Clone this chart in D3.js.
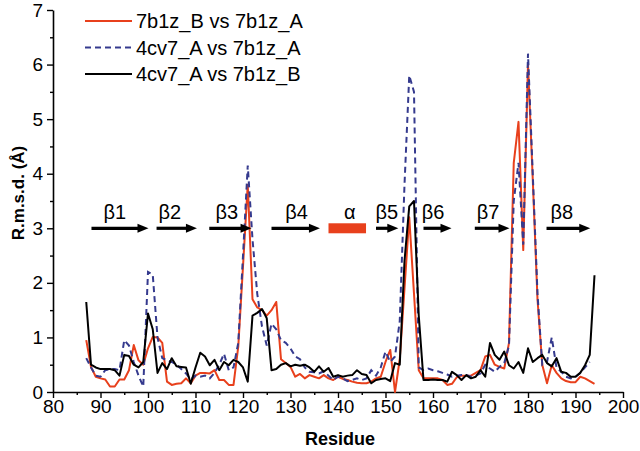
<!DOCTYPE html>
<html>
<head>
<meta charset="utf-8">
<script src="https://cdn.jsdelivr.net/npm/d3@7"></script>
<style>
  html, body { margin: 0; padding: 0; background: #fff; }
  svg { display: block; font-family: "Liberation Sans", Arial, sans-serif; }
</style>
</head>
<body>
<svg id="chart" width="640" height="451"></svg>
<script>
// ---------------- data ----------------
const firstResidue = 87;
const seriesNames = ["7b1z_B vs 7b1z_A", "4cv7_A vs 7b1z_A", "4cv7_A vs 7b1z_B"];

// 7b1z_B vs 7b1z_A (residues 87..194)
const rmsdBA = [
  0.95,0.46,0.28,0.25,0.23,0.10,0.10,0.23,0.23,0.40,
  0.86,0.58,0.50,0.80,1.01,1.00,0.90,0.19,0.13,0.15,
  0.16,0.25,0.16,0.30,0.35,0.35,0.34,0.40,0.22,0.22,
  0.13,0.13,0.83,2.30,3.80,1.70,1.55,1.50,1.40,1.50,
  1.65,0.60,0.53,0.46,0.28,0.33,0.25,0.31,0.28,0.25,
  0.31,0.25,0.22,0.28,0.24,0.22,0.19,0.17,0.16,0.16,
  0.19,0.25,0.28,0.55,0.77,0.00,0.60,1.90,3.20,1.80,
  0.40,0.25,0.25,0.25,0.25,0.22,0.13,0.15,0.27,0.30,
  0.30,0.30,0.35,0.40,0.65,0.68,0.50,0.46,0.43,0.90,
  4.20,4.95,2.60,6.00,3.90,1.70,0.50,0.16,0.49,0.35,
  0.25,0.20,0.18,0.18,0.28,0.25,0.20,0.15
];

// 4cv7_A vs 7b1z_A (residues 87..193)
const rmsdAA = [
  0.62,0.45,0.30,0.28,0.40,0.42,0.42,0.40,0.95,0.85,
  0.55,0.30,0.10,2.20,2.15,1.00,0.62,0.58,0.55,0.50,
  0.42,0.34,0.23,0.30,0.28,0.30,0.25,0.35,0.50,0.70,
  0.40,0.45,0.90,2.50,4.15,2.80,1.80,1.20,0.85,1.25,
  1.15,0.95,0.90,0.80,0.65,0.60,0.45,0.37,0.36,0.34,
  0.38,0.30,0.22,0.28,0.25,0.20,0.22,0.25,0.22,0.25,
  0.40,0.30,0.45,0.74,0.55,0.65,1.30,3.80,5.80,5.50,
  0.45,0.40,0.43,0.40,0.38,0.35,0.32,0.28,0.30,0.31,
  0.31,0.28,0.30,0.34,0.50,0.43,0.37,0.46,0.53,0.85,
  3.50,4.20,2.70,6.20,4.00,1.80,0.50,0.55,1.00,0.45,
  0.37,0.28,0.25,0.28,0.35,0.45,0.55
];

// 4cv7_A vs 7b1z_B (residues 87..194)
const rmsdAB = [
  1.65,0.50,0.45,0.42,0.42,0.42,0.40,0.30,0.68,0.66,
  0.50,0.45,0.55,1.44,1.15,0.35,0.53,0.42,0.62,0.47,
  0.46,0.45,0.15,0.45,0.72,0.65,0.49,0.59,0.40,0.55,
  0.49,0.59,0.55,0.45,0.19,1.40,1.45,1.52,1.35,0.40,
  0.42,0.50,0.53,0.47,0.50,0.48,0.50,0.45,0.37,0.47,
  0.37,0.44,0.28,0.31,0.28,0.30,0.31,0.40,0.33,0.31,
  0.16,0.22,0.24,0.25,0.20,0.53,0.50,2.40,3.40,3.50,
  1.40,0.22,0.22,0.23,0.22,0.22,0.19,0.37,0.31,0.22,
  0.31,0.25,0.28,0.40,0.28,0.90,0.68,0.59,0.74,0.49,
  0.43,0.55,0.35,0.80,0.55,0.62,0.68,0.53,0.47,0.62,
  0.37,0.35,0.28,0.28,0.35,0.49,0.68,2.14
];

// secondary structure annotations
const ssLabels = ["β1","β2","β3","β4","α","β5","β6","β7","β8"];
const ssType   = ["strand","strand","strand","strand","helix","strand","strand","strand","strand"];
const ssStart  = [88.1, 101.8, 112.9, 126.0, 138.0, 148.0, 158.0, 168.8, 183.9];
const ssEnd    = [100.1, 110.3, 121.8, 136.2, 145.9, 152.7, 163.9, 176.1, 193.1];
const ssLabelX = [93.0, 104.6, 116.6, 131.3, 142.5, 150.3, 160.0, 171.6, 187.1];
const ssLevel = 3.0;

const xTicks = [80,90,100,110,120,130,140,150,160,170,180,190,200];
const yTicks = [0,1,2,3,4,5,6,7];

// ---------------- layout ----------------
const W = 640, H = 451;
const margin = {left: 53, right: 17, top: 10, bottom: 59};
const svg = d3.select("#chart");

const x = d3.scaleLinear().domain([80, 200]).range([margin.left, W - margin.right]);
const y = d3.scaleLinear().domain([0, 7]).range([H - margin.bottom, margin.top]);

const colRed = "#e8401c", colBlue = "#353a8e", colBlack = "#000";

// axes
const fontTick = 19;
const xAxisG = svg.append("g").attr("transform", `translate(0,${y(0)})`)
  .call(d3.axisBottom(x).tickValues(xTicks).tickFormat(d3.format("d")).tickSize(6).tickSizeOuter(0).tickPadding(2));
const xMinor = svg.append("g").attr("transform", `translate(0,${y(0)})`)
  .call(d3.axisBottom(x).tickValues(xTicks.slice(0,-1).map(d => d + 5)).tickFormat("").tickSize(3).tickSizeOuter(0));
const yAxisG = svg.append("g").attr("transform", `translate(${x(80)},0)`)
  .call(d3.axisLeft(y).tickValues(yTicks).tickFormat(d3.format("d")).tickSize(6).tickSizeOuter(0).tickPadding(4));
const yMinor = svg.append("g").attr("transform", `translate(${x(80)},0)`)
  .call(d3.axisLeft(y).tickValues(yTicks.slice(0,-1).map(d => d + 0.5)).tickFormat("").tickSize(3).tickSizeOuter(0));

[xAxisG, xMinor, yAxisG, yMinor].forEach(g => {
  g.selectAll("path.domain").attr("stroke", "#000").attr("stroke-width", 1.6);
  g.selectAll(".tick line").attr("stroke", "#000").attr("stroke-width", 1.4);
  g.selectAll("text").attr("fill", "#000").style("font-size", fontTick + "px")
    .style("font-family", "'Liberation Sans', Arial, sans-serif");
});
yMinor.select("path.domain").remove();
xMinor.select("path.domain").remove();

// axis titles
svg.append("text")
  .attr("x", (x(80) + x(200)) / 2 + 2).attr("y", 445)
  .attr("text-anchor", "middle")
  .style("font-size", "18px").style("font-weight", "bold")
  .text("Residue");
svg.append("text")
  .attr("transform", `translate(24,${(y(0) + y(7)) / 2 - 8}) rotate(-90)`)
  .attr("text-anchor", "middle")
  .style("font-size", "17px").style("font-weight", "bold")
  .text("R.m.s.d. (Å)");

// lines
const line = d3.line().x((d, i) => x(firstResidue + i)).y(d => y(d));
svg.append("path").datum(rmsdBA).attr("d", line)
  .attr("fill", "none").attr("stroke", colRed).attr("stroke-width", 2).attr("stroke-linejoin", "round");
svg.append("path").datum(rmsdAA).attr("d", line)
  .attr("fill", "none").attr("stroke", colBlue).attr("stroke-width", 2).attr("stroke-dasharray", "6,4");
svg.append("path").datum(rmsdAB).attr("d", line)
  .attr("fill", "none").attr("stroke", colBlack).attr("stroke-width", 2).attr("stroke-linejoin", "round");

// secondary structure
const ss = svg.append("g");
ssLabels.forEach((lab, i) => {
  const x0 = x(ssStart[i]), x1 = x(ssEnd[i]), yy = y(ssLevel);
  if (ssType[i] === "strand") {
    const head = 11;
    ss.append("line").attr("x1", x0).attr("x2", x1 - head + 1).attr("y1", yy).attr("y2", yy)
      .attr("stroke", "#000").attr("stroke-width", 3.2);
    ss.append("path")
      .attr("d", `M${x1},${yy} L${x1 - head},${yy - 4.5} L${x1 - head},${yy + 4.5} Z`)
      .attr("fill", "#000");
  } else {
    ss.append("rect").attr("x", x0).attr("y", yy - 5).attr("width", x1 - x0).attr("height", 10)
      .attr("fill", colRed);
  }
  ss.append("text").attr("x", x(ssLabelX[i])).attr("y", yy - 9)
    .attr("text-anchor", "middle").style("font-size", "20px").text(lab);
});

// legend
const legendColors = [colRed, colBlue, colBlack];
const legendDash = [null, "6,4", null];
const lg = svg.append("g");
seriesNames.forEach((name, i) => {
  const ly = 21 + i * 26.5;
  lg.append("line").attr("x1", 85).attr("x2", 132).attr("y1", ly).attr("y2", ly)
    .attr("stroke", legendColors[i]).attr("stroke-width", 1.9)
    .attr("stroke-dasharray", legendDash[i]);
  lg.append("text").attr("x", 136).attr("y", ly + 7)
    .style("font-size", "20px").text(name);
});
</script>
</body>
</html>
